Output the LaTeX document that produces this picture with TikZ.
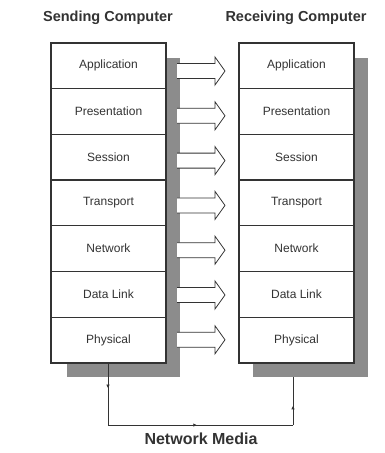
\documentclass[tikz,border=0pt]{standalone}
\usepackage{fontspec}
\setmainfont{Liberation Sans}
\usetikzlibrary{decorations.markings,arrows.meta}
\definecolor{shade}{HTML}{8C8C8C}
\definecolor{ink}{HTML}{333333}
\begin{document}
\begin{tikzpicture}[x=1pt,y=-1pt,
  layer/.style={draw=ink,line width=1.3pt,fill=white,minimum width=115pt,minimum height=45.7pt,inner sep=0pt,font=\fontsize{12}{13}\selectfont,text=ink},
  title/.style={font=\bfseries\fontsize{14.5}{16}\selectfont,text=ink},
  shadowbox/.style={fill=shade,draw=none},
  bigarrow/.style={fill=white,draw=ink,line width=0.8pt},
  wire/.style={draw=ink,line width=1pt},
  midtip/.style={postaction=decorate,decoration={markings,mark=at position #1 with {\arrow{Latex[length=3.5pt,width=3.5pt]}}}}
]
\useasboundingbox (0,0) rectangle (385,453);
\fill[white] (0,0) rectangle (385,453);
% shadows
\fill[shadowbox] (67,58) rectangle (180,377);
\fill[shadowbox] (253,58) rectangle (368,377);
% titles
\node[title] (st) at (108,18) {Sending Computer};
\node[title] (rt) at (296,18) {Receiving Computer};
% stacks
\foreach \name [count=\i from 0] in {Application,Presentation,Session,Transport,Network,Data Link,Physical}{
  \node[layer] (L\i) at (108.5,{43+22.85+45.7*\i}) {\name};
  \node[layer] (R\i) at (296.5,{43+22.85+45.7*\i}) {\name};
}
% arrows
\foreach \i in {0,...,6}{
  \pgfmathsetmacro{\yc}{71+44.8*\i}
  \fill[white] (177,\yc-7.5) -- (215,\yc-7.5) -- (215,\yc-14) -- (225,\yc) -- (215,\yc+14) -- (215,\yc+7.5) -- (177,\yc+7.5) -- cycle;
  \draw[bigarrow,fill=none] (177,\yc-7.5) -- (215,\yc-7.5) -- (215,\yc-14) -- (225,\yc) -- (215,\yc+14) -- (215,\yc+7.5) -- (177,\yc+7.5);
}
% network media
\coordinate (lb) at (108,363);
\coordinate (c1) at (108,425);
\coordinate (c2) at (293,425);
\coordinate (rb) at (293,377);
\draw[wire,midtip=0.4] (L6.south -| lb) -- (c1);
\draw[wire,midtip=0.48] (c1) -- (c2);
\draw[wire,midtip=0.4] (c2) -- (rb);
\node[font=\bfseries\fontsize{16}{18}\selectfont,text=ink] (nm) at (201,439) {Network Media};
\end{tikzpicture}
\end{document}
